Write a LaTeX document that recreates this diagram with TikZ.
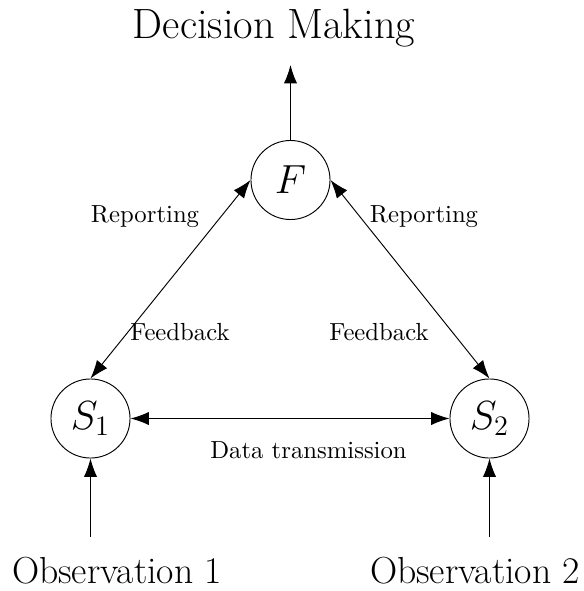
\documentclass[tikz,border=0pt]{standalone}
\usetikzlibrary{arrows.meta}
\begin{document}
\begin{tikzpicture}[x=0.425pt,y=-0.425pt,
  agent/.style={draw,circle,minimum size=33.6pt,inner sep=0pt,font=\fontsize{18}{21}\selectfont},
  lbl/.style={anchor=base,inner sep=0pt,font=\fontsize{10.5}{12}\selectfont},
  obs/.style={anchor=base,inner sep=0pt,font=\fontsize{16}{19}\selectfont},
  dec/.style={anchor=base,inner sep=0pt,font=\fontsize{18}{21}\selectfont},
  arr/.style={-{Latex[length=7.8pt,width=5.6pt]},line width=0.4pt},
  darr/.style={{Latex[length=7.8pt,width=5.6pt]}-{Latex[length=7.8pt,width=5.6pt]},line width=0.4pt}]
\useasboundingbox (0,0) rectangle (584,591);
\node[agent] (F) at (290.5,180) {$F$};
\node[agent] (S1) at (90.5,418.5) {$S_1$};
\node[agent] (S2) at (489.5,418.5) {$S_2$};
\coordinate (Dtip) at (290.5,65);
\coordinate (O1s) at (90.5,537);
\coordinate (O2s) at (489.5,537);
\node[dec] (dec) at (274,38) {Decision Making};
\node[obs] (o1) at (117,583) {Observation 1};
\node[obs] (o2) at (475,583) {Observation 2};
\node[lbl] (rl) at (145,222) {Reporting};
\node[lbl] (rr) at (424,222) {Reporting};
\node[lbl] (fl) at (180,340) {Feedback};
\node[lbl] (fr) at (379,340) {Feedback};
\node[lbl] (dt) at (308.5,458) {Data transmission};
\draw[arr] (F.north) -- (Dtip);
\draw[darr] (F.west) -- (S1.north);
\draw[darr] (F.east) -- (S2.north);
\draw[darr] (S1.east) -- (S2.west);
\draw[arr] (O1s) -- (S1.south);
\draw[arr] (O2s) -- (S2.south);
\end{tikzpicture}
\end{document}
